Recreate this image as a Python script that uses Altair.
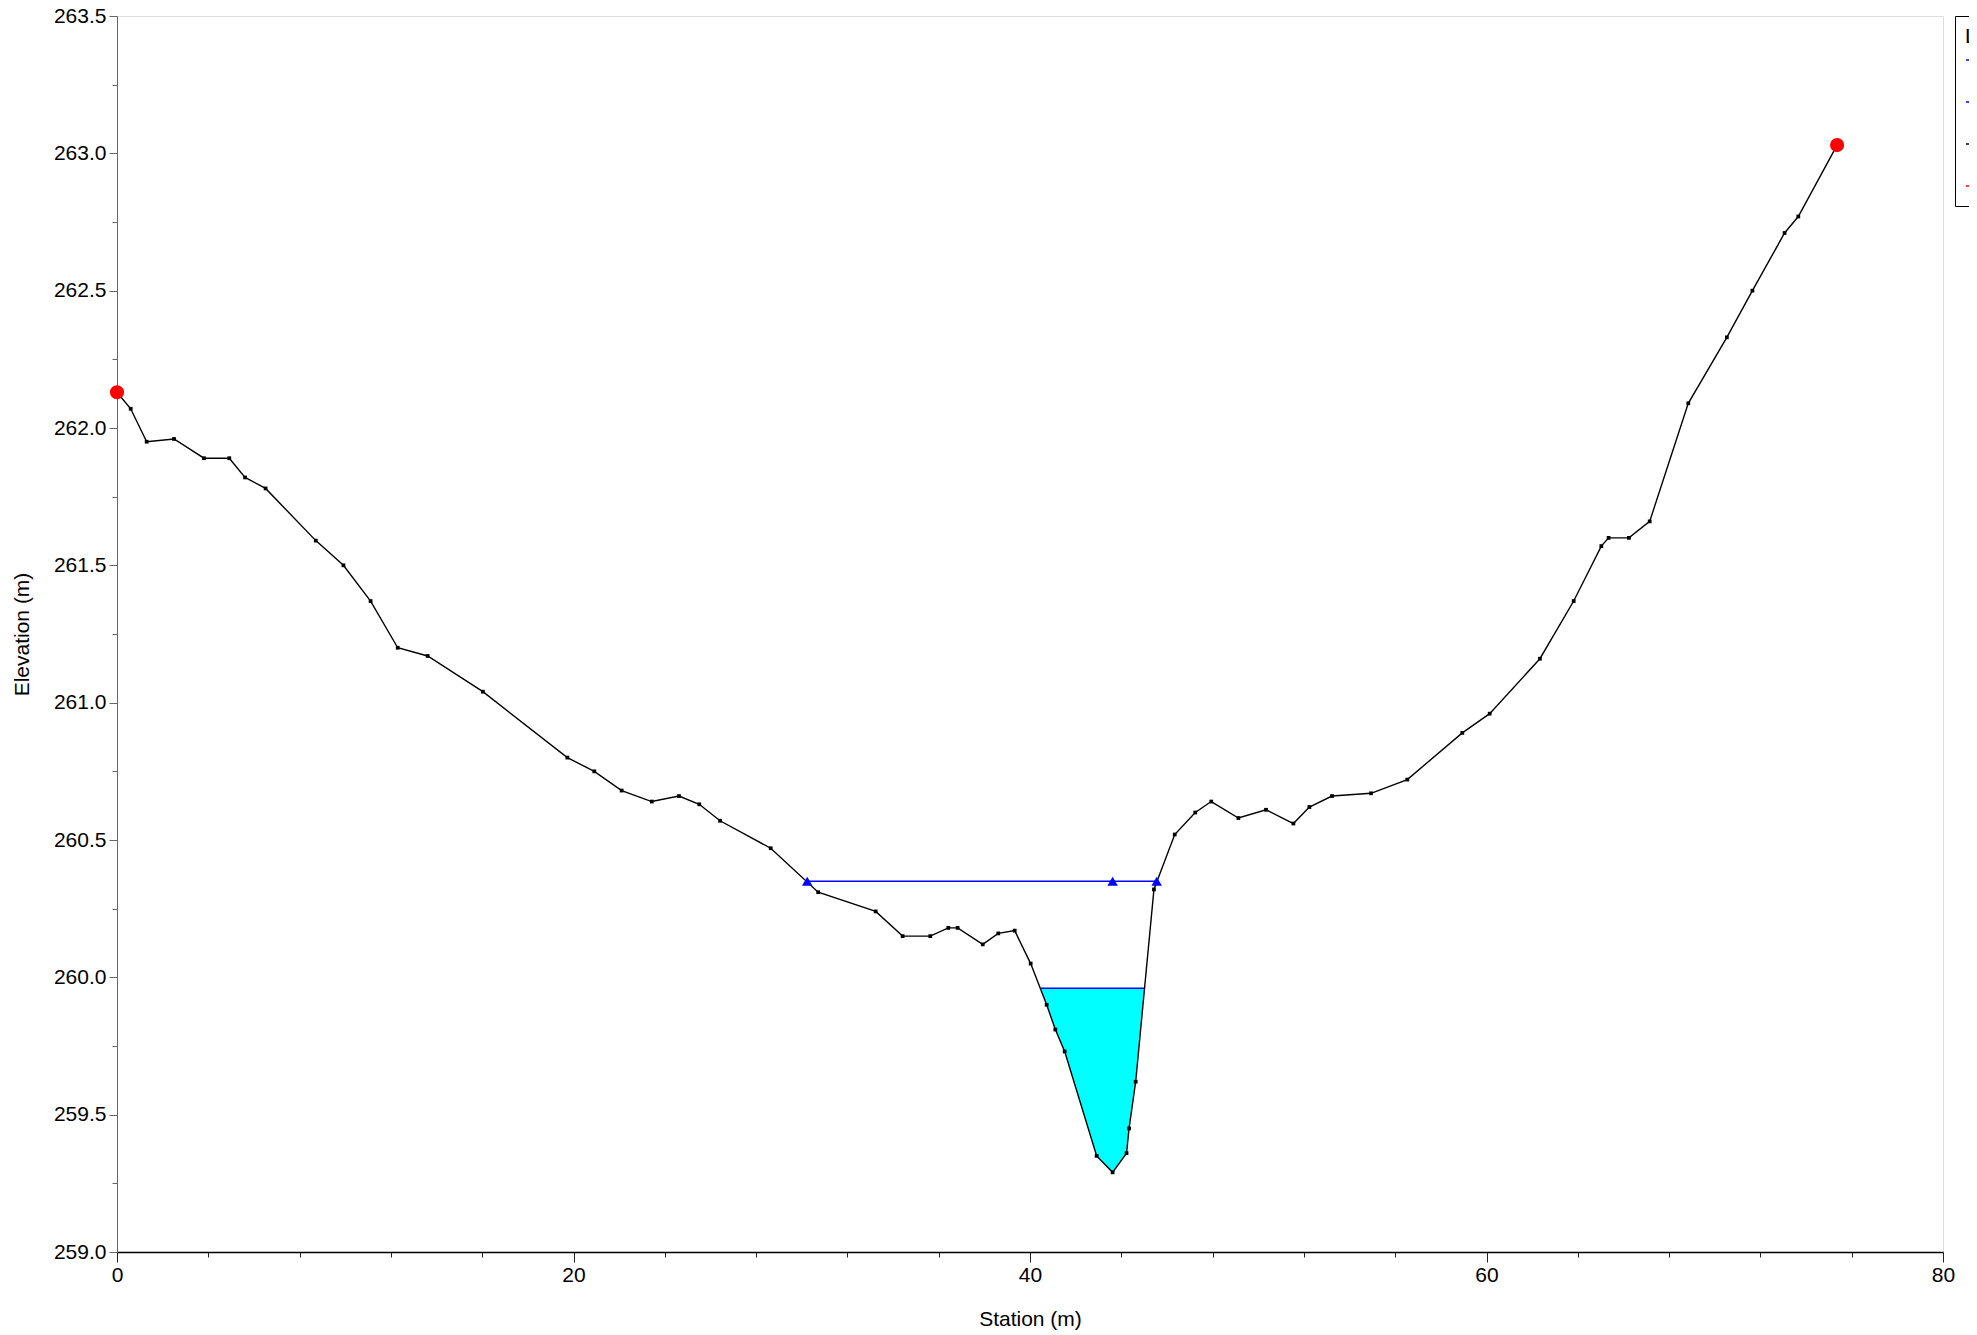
import altair as alt
import pandas as pd

# Ground profile (Station m, Elevation m)
station = [0.0, 0.60, 1.30, 2.50, 3.81, 4.92, 5.61, 6.51, 8.71, 9.92, 11.11, 12.30, 13.61,
           16.03, 19.73, 20.91, 22.11, 23.43, 24.62, 25.51, 26.42, 28.64, 30.72, 33.24, 34.42,
           35.63, 36.42, 36.83, 37.93, 38.61, 39.33, 40.03, 40.73, 41.11, 41.52, 42.92, 43.62,
           44.23, 44.34, 44.63, 45.43, 46.34, 47.24, 47.94, 49.13, 50.34, 51.54, 52.24, 53.23,
           54.94, 56.53, 58.94, 60.14, 62.34, 63.82, 65.03, 65.35, 66.24, 67.15, 68.84, 70.53,
           71.65, 73.06, 73.66, 75.36]
elevation = [262.13, 262.07, 261.95, 261.96, 261.89, 261.89, 261.82, 261.78, 261.59, 261.50,
             261.37, 261.20, 261.17, 261.04, 260.80, 260.75, 260.68, 260.64, 260.66, 260.63,
             260.57, 260.47, 260.31, 260.24, 260.15, 260.15, 260.18, 260.18, 260.12, 260.16,
             260.17, 260.05, 259.90, 259.81, 259.73, 259.35, 259.29, 259.36, 259.45, 259.62,
             260.32, 260.52, 260.60, 260.64, 260.58, 260.61, 260.56, 260.62, 260.66, 260.67,
             260.72, 260.89, 260.96, 261.16, 261.37, 261.57, 261.60, 261.60, 261.66, 262.09,
             262.33, 262.50, 262.71, 262.77, 263.03]

# Bank stations
bank_station = [0.0, 75.36]
bank_elev = [262.13, 263.03]

# Water surface 1 (upper line with triangles)
ws1_level = 260.35
ws1_station = [30.24, 45.55]
ws1_marks = [30.24, 43.62, 45.55]

# Water surface 2 (filled channel)
ws2_level = 259.96
ws2_station = [40.48, 45.01]
fill_station = [40.48, 40.73, 41.11, 41.52, 42.92, 43.62, 44.23, 44.34, 44.63, 45.01]
fill_bottom = [259.96, 259.90, 259.81, 259.73, 259.35, 259.29, 259.36, 259.45, 259.62, 259.96]

series_names = ["WS PF 2", "WS PF 1", "Ground", "Bank Sta"]
series_colors = ["#0000ff", "#0000ff", "#000000", "#ff0000"]

FONT = "Liberation Sans"

ground_df = pd.DataFrame({"station": station, "elev": elevation, "series": "Ground"})
bank_df = pd.DataFrame({"station": bank_station, "elev": bank_elev, "series": "Bank Sta"})
ws1_df = pd.DataFrame({"station": ws1_station, "elev": [ws1_level] * len(ws1_station), "series": "WS PF 1"})
ws1m_df = pd.DataFrame({"station": ws1_marks, "elev": [ws1_level] * len(ws1_marks)})
ws2_df = pd.DataFrame({"station": ws2_station, "elev": [ws2_level] * len(ws2_station), "series": "WS PF 2"})
fill_df = pd.DataFrame({"station": fill_station, "bottom": fill_bottom, "top": [ws2_level] * len(fill_station)})

x_vals = list(range(0, 81, 4))
y_vals = [259 + 0.25 * i for i in range(19)]

xscale = alt.Scale(domain=[0, 80], nice=False, zero=False)
yscale = alt.Scale(domain=[259, 263.5], nice=False, zero=False)

x_axis = alt.Axis(
    values=x_vals, title="Station (m)",
    labelExpr="datum.value % 20 === 0 ? datum.label : ''",
    tickSize={"condition": {"test": "datum.value % 20 === 0", "value": 10}, "value": 5},
    labelPadding=2, labelFlush=False, labelOverlap=False, grid=False,
    labelFont=FONT, labelFontSize=21, labelColor="#000000",
    titleFont=FONT, titleFontSize=21, titleFontWeight="normal", titleColor="#000000",
    titlePadding=23, domainColor="#000000", domainWidth=1.5, tickColor="#222222", format="d",
)
y_axis = alt.Axis(
    values=y_vals, title="Elevation (m)",
    labelExpr="datum.value % 0.5 === 0 ? format(datum.value, '.1f') : ''",
    tickSize={"condition": {"test": "datum.value % 0.5 === 0", "value": 8}, "value": 5},
    labelPadding=3, labelFlush=False, labelOverlap=False, grid=False,
    labelFont=FONT, labelFontSize=21, labelColor="#000000",
    titleFont=FONT, titleFontSize=21, titleFontWeight="normal", titleColor="#000000",
    titlePadding=21, domainColor="#666666", tickColor="#666666",
)

color_scale = alt.Scale(domain=series_names, range=series_colors)
legend = alt.Legend(
    orient="none", legendX=1838, legendY=0, title="Legend", symbolType="stroke",
    strokeColor="#000000", fillColor="#ffffff", padding=10, titleFont=FONT, titleFontSize=21,
    titleFontWeight="normal", titlePadding=2, labelFont=FONT, labelFontSize=21, symbolSize=400,
    symbolStrokeWidth=1.5, rowPadding=21,
)

fill = alt.Chart(fill_df).mark_area(color="#00ffff", opacity=1).encode(
    x=alt.X("station:Q", scale=xscale, axis=x_axis),
    y=alt.Y("bottom:Q", scale=yscale, axis=y_axis),
    y2="top:Q",
)

lines_df = pd.concat([ws2_df, ws1_df, ground_df], ignore_index=True)
lines = alt.Chart(lines_df).mark_line(strokeWidth=1.4).encode(
    x=alt.X("station:Q", scale=xscale, axis=x_axis),
    y=alt.Y("elev:Q", scale=yscale, axis=y_axis),
    color=alt.Color("series:N", scale=color_scale, legend=legend),
    detail="series:N",
)

ground_pts = alt.Chart(ground_df).mark_point(shape="square", filled=True, size=14, color="#000000", opacity=1).encode(
    x=alt.X("station:Q", scale=xscale, axis=x_axis),
    y=alt.Y("elev:Q", scale=yscale, axis=y_axis),
)

tri = alt.Chart(ws1m_df).mark_point(shape="triangle-up", filled=True, size=110, color="#0000ff", opacity=1).encode(
    x=alt.X("station:Q", scale=xscale, axis=x_axis),
    y=alt.Y("elev:Q", scale=yscale, axis=y_axis),
)

banks = alt.Chart(bank_df).mark_point(shape="circle", filled=True, size=200, opacity=1, clip=False).encode(
    x=alt.X("station:Q", scale=xscale, axis=x_axis),
    y=alt.Y("elev:Q", scale=yscale, axis=y_axis),
    color=alt.Color("series:N", scale=color_scale, legend=legend),
)

chart = alt.layer(fill, lines, ground_pts, tri, banks).properties(
    width=1826, height=1236,
    autosize=alt.AutoSizeParams(type="none"),
    padding={"left": 109, "top": 8, "right": 26, "bottom": 80},
).configure_view(stroke=None).configure(background="#ffffff")

chart.save("out.html", embed_options={"renderer": "svg", "actions": False})
